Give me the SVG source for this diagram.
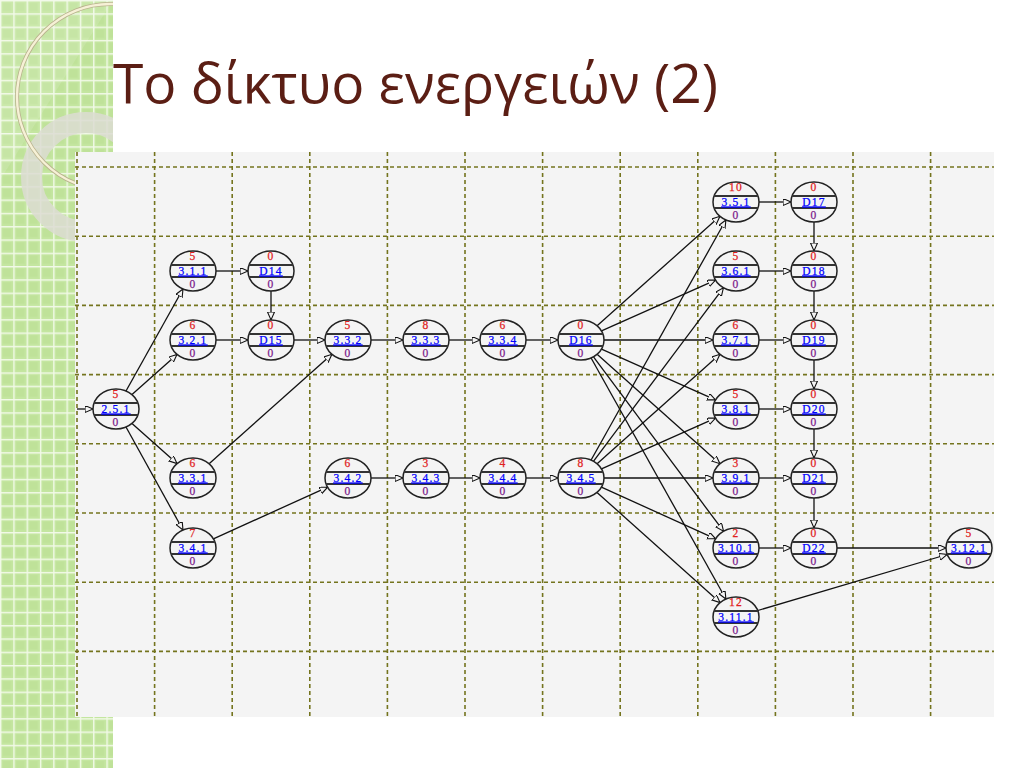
<svg xmlns="http://www.w3.org/2000/svg" xmlns:xlink="http://www.w3.org/1999/xlink" width="1024" height="768" viewBox="0 0 1024 768">
<style>
.grid line{stroke:#74741e;stroke-width:1.6;stroke-dasharray:4 3}
.edges line{stroke:#111111;stroke-width:1.3;marker-end:url(#arr)}
.nd text{font-family:"Liberation Serif",serif;font-size:11.5px;text-anchor:middle;letter-spacing:1.2px;stroke-width:0.25px}
.t{fill:#e02020;stroke:#e02020}
.m{fill:#0000ff;stroke:#0000ff;text-decoration:underline}
.b{fill:#7a1a8a;stroke:#7a1a8a}
</style>
<defs>
<marker id="arr" markerUnits="userSpaceOnUse" markerWidth="10" markerHeight="10" refX="8" refY="3.5" orient="auto">
<path d="M0,0 L8,3.5 L0,7 Z" fill="#f4f4f4" stroke="#111111" stroke-width="1.1"/>
</marker>
<pattern id="pg" width="13.3" height="13.3" patternUnits="userSpaceOnUse">
<rect width="13.3" height="13.3" fill="#c4e6a0"/>
<rect x="3" y="3" width="8" height="8" fill="#bfe299"/>
<path d="M0,0.7 H13.3 M0.7,0 V13.3" stroke="#f2f9e8" stroke-width="1.4"/>
</pattern>
<clipPath id="pc"><rect x="0" y="0" width="113" height="768"/></clipPath>
<g id="shape">
<ellipse cx="0" cy="0" rx="23" ry="20" fill="#f4f4f4" stroke="#222222" stroke-width="1.5"/>
<line x1="-21.9" y1="-6" x2="21.9" y2="-6" stroke="#333333" stroke-width="1.8"/>
<line x1="-21.9" y1="6" x2="21.9" y2="6" stroke="#333333" stroke-width="1.8"/>
</g>
</defs>
<rect width="1024" height="768" fill="#ffffff"/>
<g id="panel" clip-path="url(#pc)">
<rect x="0" y="0" width="113" height="768" fill="url(#pg)"/>
<path d="M113,0 L0,180 L0,0 Z" fill="#ffffff" opacity="0.12"/>
<circle cx="86" cy="177" r="54.5" fill="none" stroke="#dcdcd2" stroke-opacity="0.85" stroke-width="21"/>
<circle cx="110" cy="97" r="93" fill="none" stroke="#b9b28e" stroke-width="4"/>
<circle cx="110" cy="97" r="93" fill="none" stroke="#f6f1d6" stroke-width="2.4"/>
</g>
<text x="113" y="103" font-family="'Open Sans',sans-serif" font-size="55" fill="#5b1e14" textLength="605" lengthAdjust="spacingAndGlyphs">Το δίκτυο ενεργειών (2)</text>
<rect x="75" y="152" width="919" height="565" fill="#f4f4f4"/>
<g class="grid">
<line x1="77" y1="152" x2="77" y2="717"/>
<line x1="154.6" y1="152" x2="154.6" y2="717"/>
<line x1="232.2" y1="152" x2="232.2" y2="717"/>
<line x1="309.8" y1="152" x2="309.8" y2="717"/>
<line x1="387.4" y1="152" x2="387.4" y2="717"/>
<line x1="465" y1="152" x2="465" y2="717"/>
<line x1="542.6" y1="152" x2="542.6" y2="717"/>
<line x1="620.2" y1="152" x2="620.2" y2="717"/>
<line x1="697.8" y1="152" x2="697.8" y2="717"/>
<line x1="775.4" y1="152" x2="775.4" y2="717"/>
<line x1="853" y1="152" x2="853" y2="717"/>
<line x1="930.6" y1="152" x2="930.6" y2="717"/>
<line x1="75" y1="167" x2="994" y2="167"/>
<line x1="75" y1="236.2" x2="994" y2="236.2"/>
<line x1="75" y1="305.4" x2="994" y2="305.4"/>
<line x1="75" y1="374.6" x2="994" y2="374.6"/>
<line x1="75" y1="443.8" x2="994" y2="443.8"/>
<line x1="75" y1="513" x2="994" y2="513"/>
<line x1="75" y1="582.2" x2="994" y2="582.2"/>
<line x1="75" y1="651.4" x2="994" y2="651.4"/>
</g>
<g id="connectors" class="edges">
<line x1="77" y1="409" x2="93" y2="409"/>
<line x1="126" y1="391" x2="183" y2="289"/>
<line x1="132" y1="394.6" x2="177" y2="354.4"/>
<line x1="132" y1="423.4" x2="177" y2="463.6"/>
<line x1="126" y1="427" x2="183" y2="530"/>
<line x1="216" y1="271" x2="248" y2="271"/>
<line x1="271" y1="291" x2="271" y2="320"/>
<line x1="216" y1="340" x2="248" y2="340"/>
<line x1="294" y1="340" x2="325" y2="340"/>
<line x1="209.1" y1="463.7" x2="331.9" y2="354.3"/>
<line x1="213.4" y1="538.8" x2="327.6" y2="487.2"/>
<line x1="371" y1="340" x2="403" y2="340"/>
<line x1="449" y1="340" x2="480" y2="340"/>
<line x1="526" y1="340" x2="558" y2="340"/>
<line x1="371" y1="478" x2="403" y2="478"/>
<line x1="449" y1="478" x2="480" y2="478"/>
<line x1="526" y1="478" x2="558" y2="478"/>
<line x1="597.1" y1="325.7" x2="719.9" y2="216.3"/>
<line x1="601.5" y1="330.9" x2="715.5" y2="280.1"/>
<line x1="604" y1="340" x2="713" y2="340"/>
<line x1="601.5" y1="349.1" x2="715.5" y2="399.9"/>
<line x1="597.1" y1="354.3" x2="719.9" y2="463.7"/>
<line x1="593.5" y1="356.8" x2="723.5" y2="531.2"/>
<line x1="591.1" y1="358" x2="725.9" y2="599"/>
<line x1="591.1" y1="460" x2="725.9" y2="220"/>
<line x1="593.6" y1="461.2" x2="723.4" y2="287.8"/>
<line x1="597.1" y1="463.7" x2="719.9" y2="354.3"/>
<line x1="601.5" y1="468.9" x2="715.5" y2="418.1"/>
<line x1="604" y1="478" x2="713" y2="478"/>
<line x1="601.4" y1="487.2" x2="715.6" y2="538.8"/>
<line x1="597" y1="492.4" x2="720" y2="602.6"/>
<line x1="759" y1="202" x2="791" y2="202"/>
<line x1="759" y1="271" x2="791" y2="271"/>
<line x1="759" y1="340" x2="791" y2="340"/>
<line x1="759" y1="409" x2="791" y2="409"/>
<line x1="759" y1="478" x2="791" y2="478"/>
<line x1="759" y1="548" x2="791" y2="548"/>
<line x1="814" y1="222" x2="814" y2="251"/>
<line x1="814" y1="291" x2="814" y2="320"/>
<line x1="814" y1="360" x2="814" y2="389"/>
<line x1="814" y1="429" x2="814" y2="458"/>
<line x1="814" y1="498" x2="814" y2="528"/>
<line x1="837" y1="548" x2="946" y2="548"/>
<line x1="757.8" y1="610.5" x2="947.2" y2="554.5"/>
</g>
<g id="n-2-5-1" class="nd" transform="translate(116,409)"><use xlink:href="#shape"/><text class="t" y="-11">5</text><text class="m" y="3.5">2.5.1</text><text class="b" y="16.5">0</text></g>
<g id="n-3-1-1" class="nd" transform="translate(193,271)"><use xlink:href="#shape"/><text class="t" y="-11">5</text><text class="m" y="3.5">3.1.1</text><text class="b" y="16.5">0</text></g>
<g id="n-D14" class="nd" transform="translate(271,271)"><use xlink:href="#shape"/><text class="t" y="-11">0</text><text class="m" y="3.5">D14</text><text class="b" y="16.5">0</text></g>
<g id="n-3-2-1" class="nd" transform="translate(193,340)"><use xlink:href="#shape"/><text class="t" y="-11">6</text><text class="m" y="3.5">3.2.1</text><text class="b" y="16.5">0</text></g>
<g id="n-D15" class="nd" transform="translate(271,340)"><use xlink:href="#shape"/><text class="t" y="-11">0</text><text class="m" y="3.5">D15</text><text class="b" y="16.5">0</text></g>
<g id="n-3-3-2" class="nd" transform="translate(348,340)"><use xlink:href="#shape"/><text class="t" y="-11">5</text><text class="m" y="3.5">3.3.2</text><text class="b" y="16.5">0</text></g>
<g id="n-3-3-3" class="nd" transform="translate(426,340)"><use xlink:href="#shape"/><text class="t" y="-11">8</text><text class="m" y="3.5">3.3.3</text><text class="b" y="16.5">0</text></g>
<g id="n-3-3-4" class="nd" transform="translate(503,340)"><use xlink:href="#shape"/><text class="t" y="-11">6</text><text class="m" y="3.5">3.3.4</text><text class="b" y="16.5">0</text></g>
<g id="n-D16" class="nd" transform="translate(581,340)"><use xlink:href="#shape"/><text class="t" y="-11">0</text><text class="m" y="3.5">D16</text><text class="b" y="16.5">0</text></g>
<g id="n-3-3-1" class="nd" transform="translate(193,478)"><use xlink:href="#shape"/><text class="t" y="-11">6</text><text class="m" y="3.5">3.3.1</text><text class="b" y="16.5">0</text></g>
<g id="n-3-4-1" class="nd" transform="translate(193,548)"><use xlink:href="#shape"/><text class="t" y="-11">7</text><text class="m" y="3.5">3.4.1</text><text class="b" y="16.5">0</text></g>
<g id="n-3-4-2" class="nd" transform="translate(348,478)"><use xlink:href="#shape"/><text class="t" y="-11">6</text><text class="m" y="3.5">3.4.2</text><text class="b" y="16.5">0</text></g>
<g id="n-3-4-3" class="nd" transform="translate(426,478)"><use xlink:href="#shape"/><text class="t" y="-11">3</text><text class="m" y="3.5">3.4.3</text><text class="b" y="16.5">0</text></g>
<g id="n-3-4-4" class="nd" transform="translate(503,478)"><use xlink:href="#shape"/><text class="t" y="-11">4</text><text class="m" y="3.5">3.4.4</text><text class="b" y="16.5">0</text></g>
<g id="n-3-4-5" class="nd" transform="translate(581,478)"><use xlink:href="#shape"/><text class="t" y="-11">8</text><text class="m" y="3.5">3.4.5</text><text class="b" y="16.5">0</text></g>
<g id="n-3-5-1" class="nd" transform="translate(736,202)"><use xlink:href="#shape"/><text class="t" y="-11">10</text><text class="m" y="3.5">3.5.1</text><text class="b" y="16.5">0</text></g>
<g id="n-D17" class="nd" transform="translate(814,202)"><use xlink:href="#shape"/><text class="t" y="-11">0</text><text class="m" y="3.5">D17</text><text class="b" y="16.5">0</text></g>
<g id="n-3-6-1" class="nd" transform="translate(736,271)"><use xlink:href="#shape"/><text class="t" y="-11">5</text><text class="m" y="3.5">3.6.1</text><text class="b" y="16.5">0</text></g>
<g id="n-D18" class="nd" transform="translate(814,271)"><use xlink:href="#shape"/><text class="t" y="-11">0</text><text class="m" y="3.5">D18</text><text class="b" y="16.5">0</text></g>
<g id="n-3-7-1" class="nd" transform="translate(736,340)"><use xlink:href="#shape"/><text class="t" y="-11">6</text><text class="m" y="3.5">3.7.1</text><text class="b" y="16.5">0</text></g>
<g id="n-D19" class="nd" transform="translate(814,340)"><use xlink:href="#shape"/><text class="t" y="-11">0</text><text class="m" y="3.5">D19</text><text class="b" y="16.5">0</text></g>
<g id="n-3-8-1" class="nd" transform="translate(736,409)"><use xlink:href="#shape"/><text class="t" y="-11">5</text><text class="m" y="3.5">3.8.1</text><text class="b" y="16.5">0</text></g>
<g id="n-D20" class="nd" transform="translate(814,409)"><use xlink:href="#shape"/><text class="t" y="-11">0</text><text class="m" y="3.5">D20</text><text class="b" y="16.5">0</text></g>
<g id="n-3-9-1" class="nd" transform="translate(736,478)"><use xlink:href="#shape"/><text class="t" y="-11">3</text><text class="m" y="3.5">3.9.1</text><text class="b" y="16.5">0</text></g>
<g id="n-D21" class="nd" transform="translate(814,478)"><use xlink:href="#shape"/><text class="t" y="-11">0</text><text class="m" y="3.5">D21</text><text class="b" y="16.5">0</text></g>
<g id="n-3-10-1" class="nd" transform="translate(736,548)"><use xlink:href="#shape"/><text class="t" y="-11">2</text><text class="m" y="3.5">3.10.1</text><text class="b" y="16.5">0</text></g>
<g id="n-D22" class="nd" transform="translate(814,548)"><use xlink:href="#shape"/><text class="t" y="-11">0</text><text class="m" y="3.5">D22</text><text class="b" y="16.5">0</text></g>
<g id="n-3-11-1" class="nd" transform="translate(736,617)"><use xlink:href="#shape"/><text class="t" y="-11">12</text><text class="m" y="3.5">3.11.1</text><text class="b" y="16.5">0</text></g>
<g id="n-3-12-1" class="nd" transform="translate(969,548)"><use xlink:href="#shape"/><text class="t" y="-11">5</text><text class="m" y="3.5">3.12.1</text><text class="b" y="16.5">0</text></g>
</svg>
